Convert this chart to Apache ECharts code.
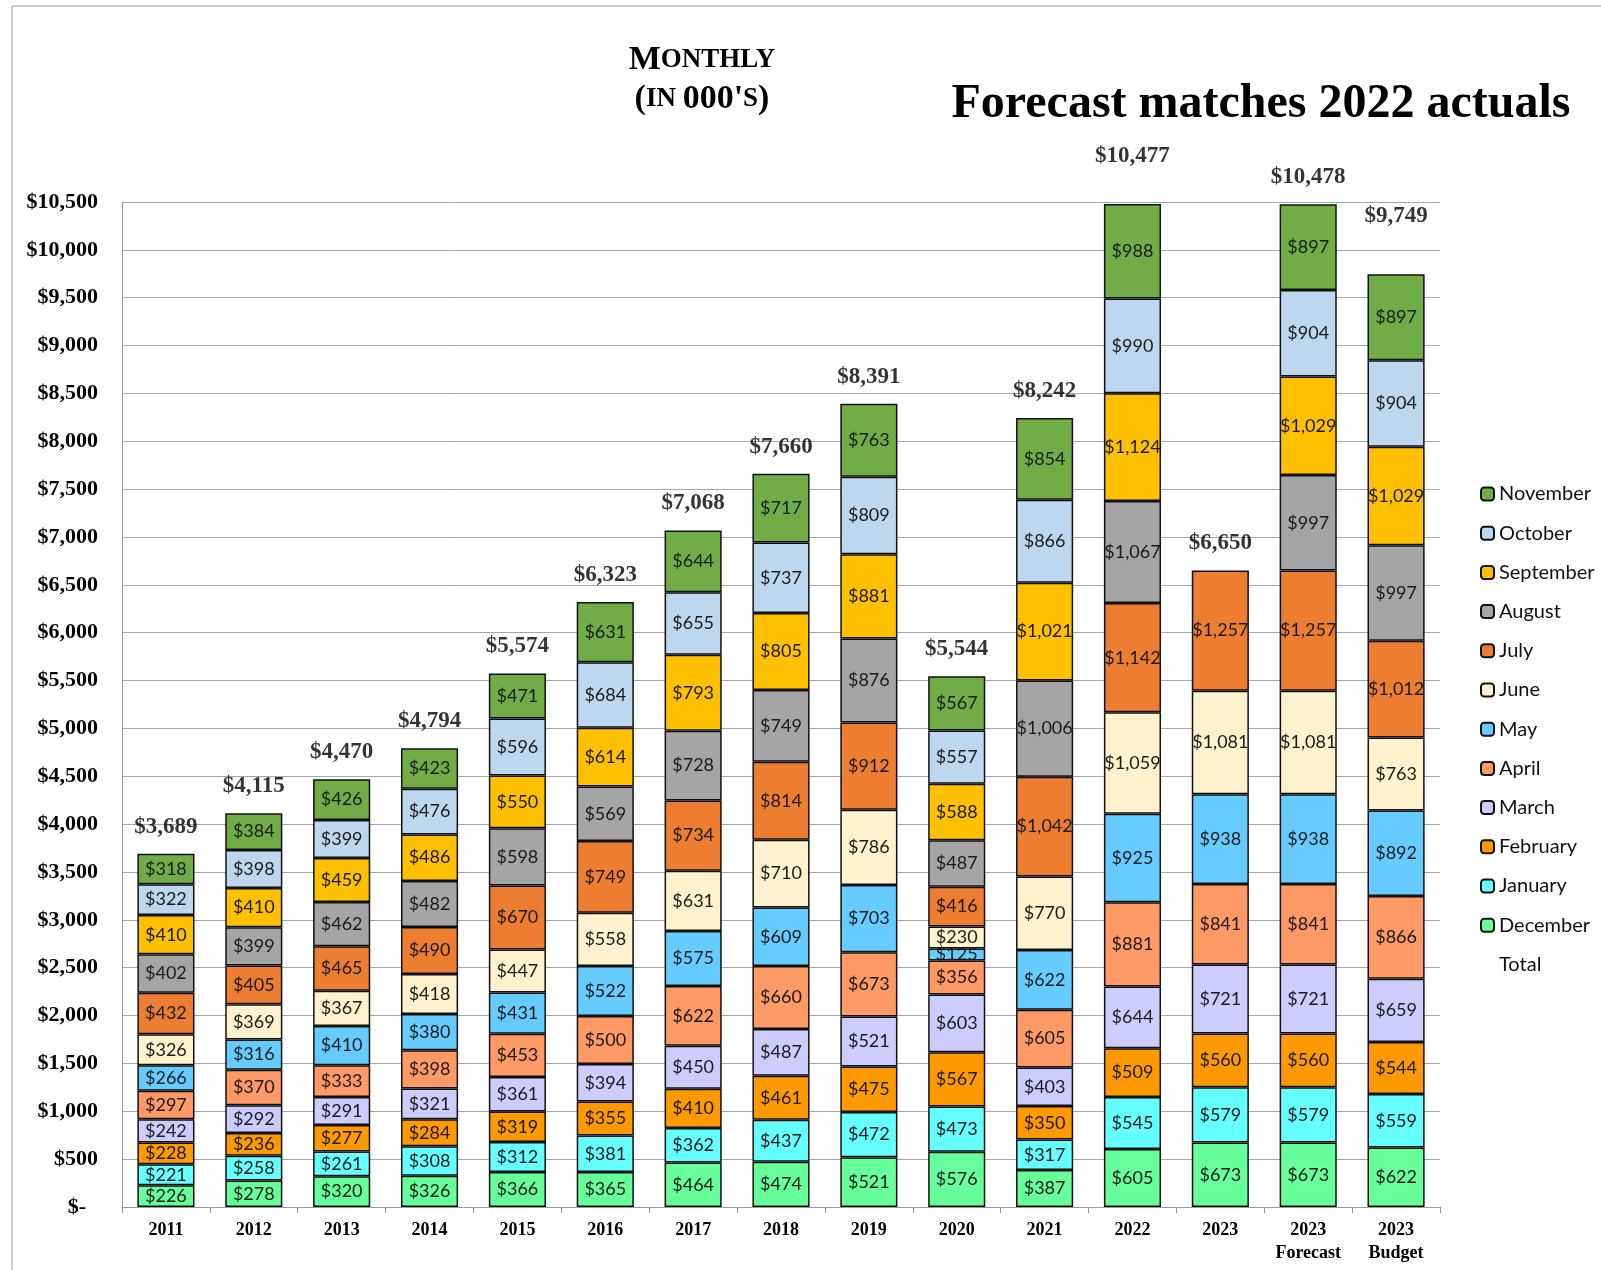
<!DOCTYPE html>
<html>
<head>
<meta charset="utf-8">
<script src="https://cdn.jsdelivr.net/npm/echarts@6/dist/echarts.min.js"></script>
<style>
html,body{margin:0;padding:0;background:#fff;}
#chart{width:1601px;height:1270px;}
</style>
</head>
<body>
<div id="chart"></div>
<script>
const categories = ['2011','2012','2013','2014','2015','2016','2017','2018','2019','2020','2021','2022','2023','2023\nForecast','2023\nBudget'];
const december  = [226,278,320,326,366,365,464,474,521,576,387,605,673,673,622];
const january   = [221,258,261,308,312,381,362,437,472,473,317,545,579,579,559];
const february  = [228,236,277,284,319,355,410,461,475,567,350,509,560,560,544];
const march     = [242,292,291,321,361,394,450,487,521,603,403,644,721,721,659];
const april     = [297,370,333,398,453,500,622,660,673,356,605,881,841,841,866];
const may       = [266,316,410,380,431,522,575,609,703,125,622,925,938,938,892];
const june      = [326,369,367,418,447,558,631,710,786,230,770,1059,1081,1081,763];
const july      = [432,405,465,490,670,749,734,814,912,416,1042,1142,1257,1257,1012];
const august    = [402,399,462,482,598,569,728,749,876,487,1006,1067,null,997,997];
const september = [410,410,459,486,550,614,793,805,881,588,1021,1124,null,1029,1029];
const october   = [322,398,399,476,596,684,655,737,809,557,866,990,null,904,904];
const november  = [318,384,426,423,471,631,644,717,763,567,854,988,null,897,897];
const totals    = [3689,4115,4470,4794,5574,6323,7068,7660,8391,5544,8242,10477,6650,10478,9749];

const monthNames = ['December','January','February','March','April','May','June','July','August','September','October','November'];
const monthData = [december,january,february,march,april,may,june,july,august,september,october,november];
const monthColors = ['#66FF99','#66FFFF','#FF9900','#CCCCFF','#FF9966','#66CCFF','#FFF2CC','#ED7D31','#A5A5A5','#FFC000','#BDD7EE','#70AD47'];

// extra lift (px) of the total label above a few bars, as in the reference
const totalLabelGap = {11: 36, 14: 46};

const fmt = v => '$' + Number(v).toLocaleString('en-US');

const series = monthNames.map((name, i) => ({
  name: name,
  type: 'bar',
  stack: 'm',
  barCategoryGap: '35%',
  data: monthData[i],
  itemStyle: {color: monthColors[i], borderColor: '#111', borderWidth: 1.5},
  label: {
    show: true, position: 'inside',
    formatter: p => fmt(p.value),
    fontFamily: 'Lato', fontSize: 18, color: '#1a1a1a'
  },
  emphasis: {disabled: true}
}));

series.push({
  name: 'Total',
  type: 'scatter',
  symbol: 'circle',
  symbolSize: 1,
  itemStyle: {color: 'rgba(0,0,0,0)'},
  z: 10,
  data: totals.map((v, i) => ({
    value: v,
    label: {distance: totalLabelGap[i] !== undefined ? totalLabelGap[i] : 15}
  })),
  label: {
    show: true, position: 'top', distance: 15,
    formatter: p => fmt(p.value),
    fontFamily: 'Liberation Serif', fontWeight: 'bold', fontSize: 23, color: '#000'
  },
  emphasis: {disabled: true}
});

const legendData = monthNames.slice().reverse().map(n => ({name: n}));
legendData.push({name: 'Total', icon: 'rect', itemStyle: {color: 'rgba(0,0,0,0)', borderWidth: 0}});

const chart = echarts.init(document.getElementById('chart'), null, {renderer: 'canvas'});
chart.setOption({
  animation: false,
  backgroundColor: '#fff',
  grid: {left: 122, right: 161, top: 202, bottom: 63, containLabel: false},
  legend: {
    orient: 'vertical', left: 1475, top: 479,
    itemWidth: 13, itemHeight: 13, itemGap: 19.2,
    data: legendData,
    textStyle: {fontFamily: 'Lato', fontSize: 20, color: '#111', lineHeight: 20},
    selectedMode: false
  },
  xAxis: {
    type: 'category',
    data: categories,
    axisLine: {show: true, lineStyle: {color: '#999', width: 1}},
    axisTick: {show: true, length: 6, lineStyle: {color: '#999'}},
    axisLabel: {
      fontFamily: 'Liberation Serif', fontWeight: 'bold', fontSize: 18, color: '#000',
      margin: 12, lineHeight: 23
    }
  },
  yAxis: {
    type: 'value', min: 0, max: 10500, interval: 500,
    axisLine: {show: true, lineStyle: {color: '#999', width: 1}},
    axisTick: {show: false},
    splitLine: {show: true, lineStyle: {color: '#A6A6A6', width: 1}},
    axisLabel: {
      margin: 24,
      fontFamily: 'Liberation Serif', fontWeight: 'bold', fontSize: 22, color: '#000',
      formatter: v => v === 0 ? '{z|$-}' : fmt(v),
      rich: {z: {fontFamily: 'Liberation Serif', fontWeight: 'bold', fontSize: 22, color: '#000', padding: [0, 12, 0, 0]}}
    }
  },
  graphic: [
    {type: 'rect', silent: true, shape: {x: 12, y: 6, width: 1700, height: 1400},
     style: {fill: 'none', stroke: '#999', lineWidth: 1}},
    {type: 'text', x: 702, y: 60, style: {
      text: '{a|M}{b|ONTHLY}', align: 'center', verticalAlign: 'middle',
      rich: {
        a: {fontFamily: 'Liberation Serif', fontWeight: 'bold', fontSize: 34, fill: '#000'},
        b: {fontFamily: 'Liberation Serif', fontWeight: 'bold', fontSize: 27, fill: '#000'}
      }}},
    {type: 'text', x: 702, y: 99, style: {
      text: '{a|(}{b|IN }{a|000\'}{b|S}{a|)}', align: 'center', verticalAlign: 'middle',
      rich: {
        a: {fontFamily: 'Liberation Serif', fontWeight: 'bold', fontSize: 34, fill: '#000'},
        b: {fontFamily: 'Liberation Serif', fontWeight: 'bold', fontSize: 27, fill: '#000'}
      }}},
    {type: 'text', x: 1261, y: 105, style: {
      text: 'Forecast matches 2022 actuals', align: 'center', verticalAlign: 'middle',
      font: 'bold 48px "Liberation Serif"', fill: '#000'}}
  ],
  series: series
});
</script>
</body>
</html>
